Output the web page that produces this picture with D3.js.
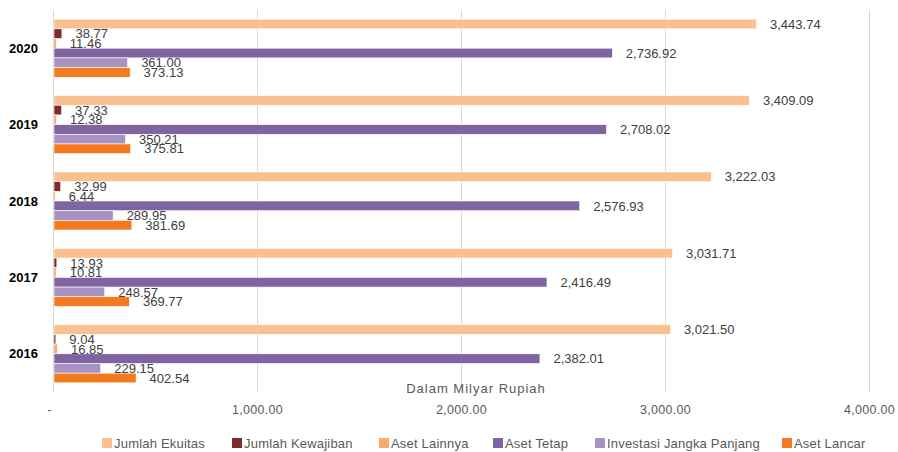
<!DOCTYPE html>
<html>
<head>
<meta charset="utf-8">
<script src="https://cdn.jsdelivr.net/npm/d3@7"></script>
<style>
  body { margin: 0; background: #fff; }
  svg { font-family: "Liberation Sans", Arial, sans-serif; }
</style>
</head>
<body>
<div id="chart"></div>
<script>
// Tahun (kategori), dari atas ke bawah
const years = ['2020', '2019', '2018', '2017', '2016'];

// Seri, urutan dari atas ke bawah dalam tiap kelompok
const seriesNames = ['Jumlah Ekuitas', 'Jumlah Kewajiban', 'Aset Lainnya', 'Aset Tetap', 'Investasi Jangka Panjang', 'Aset Lancar'];
const seriesColors = ['#FAC090', '#7B2C2B', '#F9AA6B', '#8064A2', '#A693C1', '#F47A1F'];

// Nilai per seri, urutan sama dengan years
const jumlahEkuitas   = [3443.74, 3409.09, 3222.03, 3031.71, 3021.50];
const jumlahKewajiban = [38.77, 37.33, 32.99, 13.93, 9.04];
const asetLainnya     = [11.46, 12.38, 6.44, 10.81, 16.85];
const asetTetap       = [2736.92, 2708.02, 2576.93, 2416.49, 2382.01];
const investasiJP     = [361.00, 350.21, 289.95, 248.57, 229.15];
const asetLancar      = [373.13, 375.81, 381.69, 369.77, 402.54];

const seriesValues = [jumlahEkuitas, jumlahKewajiban, asetLainnya, asetTetap, investasiJP, asetLancar];

// Nilai sumbu X
const xTicks = [0, 1000, 2000, 3000, 4000];

const width = 898, height = 452;
const plot = { left: 53.5, right: 869.5, top: 10, bottom: 392 };

const svg = d3.select('#chart').append('svg')
    .attr('width', width)
    .attr('height', height);

const x = d3.scaleLinear().domain([0, 4000]).range([plot.left, plot.right]);

const y = d3.scaleBand().domain(years)
    .range([plot.top, plot.bottom])
    .paddingInner(0.24).paddingOuter(0.12);

const ySeries = d3.scaleBand().domain(seriesNames).range([0, y.bandwidth()]);

const fmt = d3.format(',.2f');

// Garis grid vertikal
svg.append('g')
   .selectAll('line')
   .data(xTicks)
   .enter().append('line')
   .attr('x1', d => x(d)).attr('x2', d => x(d))
   .attr('y1', plot.top).attr('y2', plot.bottom)
   .attr('stroke', '#d9d9d9')
   .attr('stroke-width', 1);

// Label sumbu X
svg.append('g')
   .selectAll('text')
   .data(xTicks)
   .enter().append('text')
   .attr('x', d => d === 0 ? x(d) - 4 : x(d))
   .attr('y', 414)
   .attr('text-anchor', 'middle')
   .attr('font-size', 12.5)
   .attr('letter-spacing', 0.3)
   .attr('fill', '#595959')
   .text(d => d === 0 ? '-' : fmt(d));

// Judul sumbu
svg.append('text')
   .attr('x', 476)
   .attr('y', 393)
   .attr('text-anchor', 'middle')
   .attr('font-size', 13)
   .attr('letter-spacing', 1)
   .attr('fill', '#595959')
   .text('Dalam Milyar Rupiah');

// Batang per tahun
const groups = svg.append('g')
   .selectAll('g')
   .data(years)
   .enter().append('g')
   .attr('transform', d => `translate(0,${y(d)})`);

groups.selectAll('rect')
   .data((yr, i) => seriesNames.map((s, j) => ({ s, j, v: seriesValues[j][i] })))
   .enter().append('rect')
   .attr('x', x(0) + 0.5)
   .attr('y', d => ySeries(d.s))
   .attr('width', d => x(d.v) - x(0))
   .attr('height', ySeries.bandwidth())
   .attr('fill', (d) => seriesColors[d.j])
   .attr('stroke', '#fff')
   .attr('stroke-width', 0.6);

groups.selectAll('text')
   .data((yr, i) => seriesNames.map((s, j) => ({ s, j, v: seriesValues[j][i] })))
   .enter().append('text')
   .attr('x', d => x(d.v) + 14)
   .attr('y', d => ySeries(d.s) + ySeries.bandwidth() / 2)
   .attr('dy', '0.36em')
   .attr('font-size', 13)
   .attr('fill', '#404040')
   .text(d => fmt(d.v));

// Sumbu vertikal
svg.append('line')
   .attr('x1', plot.left).attr('x2', plot.left)
   .attr('y1', plot.top).attr('y2', plot.bottom)
   .attr('stroke', '#d9d9d9');

// Label tahun
svg.append('g')
   .selectAll('text')
   .data(years)
   .enter().append('text')
   .attr('x', 38)
   .attr('y', d => y(d) + y.bandwidth() / 2)
   .attr('dy', '0.36em')
   .attr('text-anchor', 'end')
   .attr('font-size', 13)
   .attr('font-weight', 'bold')
   .attr('fill', '#000')
   .text(d => d);

// Legenda
const legendX = [102, 232, 379, 493, 595, 782];
const legend = svg.append('g')
   .selectAll('g')
   .data(seriesNames)
   .enter().append('g')
   .attr('transform', (d, i) => `translate(${legendX[i]},438)`);

legend.append('rect')
   .attr('width', 10).attr('height', 10)
   .attr('fill', (d, i) => seriesColors[i]);

legend.append('text')
   .attr('x', 12)
   .attr('y', 5)
   .attr('dy', '0.36em')
   .attr('font-size', 13)
   .attr('letter-spacing', 0.2)
   .attr('fill', '#595959')
   .text(d => d);
</script>
</body>
</html>
